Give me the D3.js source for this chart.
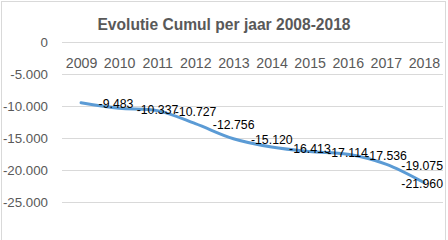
<!DOCTYPE html>
<html><head><meta charset="utf-8">
<script src="https://cdn.jsdelivr.net/npm/d3@7"></script>
<style>
html,body{margin:0;padding:0;background:#fff;}
svg{display:block;font-family:"Liberation Sans",Arial,sans-serif;}
</style></head>
<body><svg id="c" width="448" height="240"></svg>
<script>
const title = "Evolutie Cumul per jaar 2008-2018";
const years = ["2009","2010","2011","2012","2013","2014","2015","2016","2017","2018"];
const values = [-9483,-10337,-10727,-12756,-15120,-16413,-17114,-17536,-19075,-21960];
const yTicks = [0,-5000,-10000,-15000,-20000,-25000];

(function(){
const loc = d3.formatLocale({decimal:",", thousands:".", grouping:[3], currency:["€",""], minus:"-"});
const fmt = loc.format(",.0f");

const svg = d3.select("#c");
const pl = 62, pr = 443, pt = 42, pb = 202;

// chart border
svg.append("rect").attr("x",1.5).attr("y",1.5).attr("width",444).attr("height",270)
  .attr("fill","#fff").attr("stroke","#d9d9d9").attr("stroke-width",1);

const x = d3.scalePoint().domain(years).range([pl,pr]).padding(0.5);
const y = d3.scaleLinear().domain([-25000,0]).range([pb,pt]);

// gridlines + y axis
const yAxis = svg.append("g").attr("transform",`translate(${pl},0)`)
  .call(d3.axisLeft(y).tickValues(yTicks).tickFormat(fmt).tickSize(-(pr-pl)).tickPadding(14));
yAxis.select(".domain").remove();
yAxis.selectAll(".tick line").attr("stroke","#d9d9d9").attr("stroke-width",1);
yAxis.selectAll(".tick text").attr("fill","#595959").attr("font-size","13.3px")
  .attr("dy",null).attr("y",4.5);

// x axis (crossing at 0)
const xAxis = svg.append("g").attr("transform",`translate(0,${y(0)})`)
  .call(d3.axisBottom(x).tickSize(0).tickPadding(0));
xAxis.select(".domain").remove();
xAxis.selectAll(".tick text").attr("fill","#595959").attr("font-size","14.2px")
  .attr("dy",null).attr("y",26);

// line
const data = years.map((yr,i)=>({yr, v: values[i]}));
const line = d3.line().x(d=>x(d.yr)).y(d=>y(d.v)).curve(d3.curveCatmullRom.alpha(0.5));
svg.append("path").datum(data).attr("d",line).attr("fill","none")
  .attr("stroke","#5b9bd5").attr("stroke-width",3).attr("stroke-linecap","round");

// data labels
const lbl = svg.append("g").selectAll("text").data(data).join("text")
  .attr("font-size","12.3px").attr("fill","#000")
  .text(d=>fmt(d.v))
  .attr("y",d=>y(d.v)+5.7);
lbl.each(function(d){
  const w = this.getComputedTextLength();
  let lx = x(d.yr) + 17.5;
  if (lx + w > pr) lx = pr - w;
  d3.select(this).attr("x", lx);
});

// title
svg.append("text").attr("x",224).attr("y",29.5).attr("text-anchor","middle")
  .attr("font-size","15.6px").attr("font-weight","bold").attr("fill","#595959")
  .text(title);
})();
</script>
</body></html>
